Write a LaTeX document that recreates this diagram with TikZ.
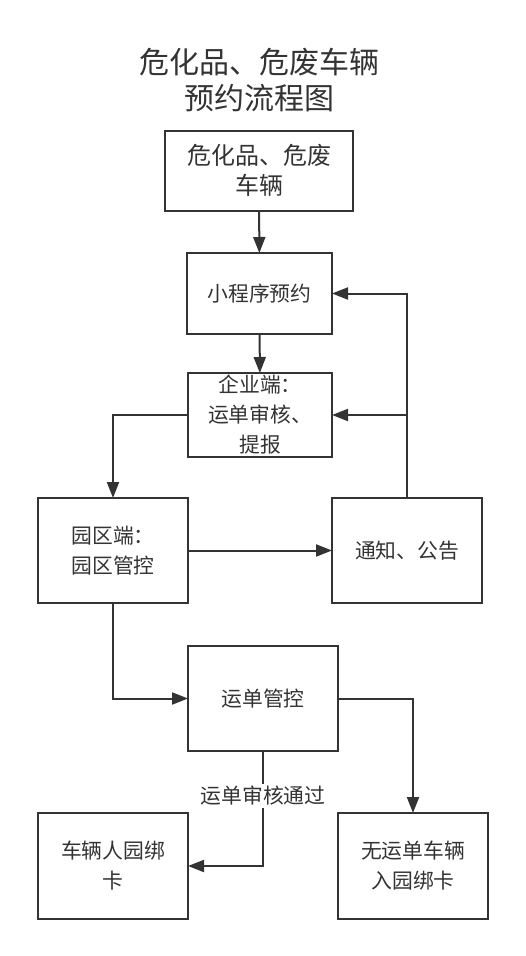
\documentclass[tikz,border=0pt]{standalone}
\usepackage{fontspec}
\setmainfont{Noto Sans CJK SC}
\usetikzlibrary{arrows.meta}
\definecolor{ink}{HTML}{333333}
\begin{document}
\begin{tikzpicture}[x=0.75pt,y=-0.75pt,
  box/.style={draw=ink,line width=1.5pt,inner sep=0pt,outer sep=0pt,align=center,
    text=ink,font=\fontsize{15.6}{22.5}\selectfont},
  arr/.style={draw=ink,line width=1.5pt,-{Triangle[length=12pt,width=9pt]}},
  lab/.style={fill=white,text=ink,inner sep=2pt,font=\fontsize{15.6}{22.5}\selectfont}]
\useasboundingbox (0,0) rectangle (525,956);
\node[text=ink,align=center,font=\fontsize{22.5}{27}\selectfont] (title) at (259,80) {危化品、危废车辆\\预约流程图};
\node[box,minimum width=141pt,minimum height=60pt,font=\fontsize{18}{22.5}\selectfont] (b1) at (259,170.5) {危化品、危废\\车辆};
\node[box,minimum width=108.75pt,minimum height=60.75pt] (b2) at (259.5,293.5) {小程序预约};
\node[box,minimum width=108pt,minimum height=63pt] (b3) at (260,415) {企业端：\\运单审核、\\提报};
\node[box,minimum width=112.5pt,minimum height=78.75pt] (b4) at (113,550.5) {园区端：\\园区管控};
\node[box,minimum width=112.5pt,minimum height=78.75pt] (b5) at (407,550.5) {通知、公告};
\node[box,minimum width=112.5pt,minimum height=78.75pt] (b6) at (263,698.5) {运单管控};
\node[box,minimum width=112.5pt,minimum height=79.5pt] (b7) at (113,866) {车辆人园绑\\卡};
\node[box,minimum width=112.5pt,minimum height=79.5pt] (b8) at (413,866) {无运单车辆\\入园绑卡};
\draw[arr] (b1) -- (b2);
\draw[arr] (b2) -- (b3);
\draw[arr] (b3.west) -| (b4.north);
\draw[arr] (b4) -- (b5);
\draw[arr] (b5.north) |- (b2.east);
\coordinate (br) at (b5.north |- b3.east);
\draw[arr] (br) -- (b3.east);
\draw[arr] (b4.south) |- (b6.west);
\draw[arr] (b6.east) -| (b8.north);
\coordinate (cn) at (b6.south |- b7.east);
\draw[arr] (b6.south) -- node[lab,pos=0.39] (l1) {运单审核通过} (cn) -- (b7.east);
\end{tikzpicture}
\end{document}
